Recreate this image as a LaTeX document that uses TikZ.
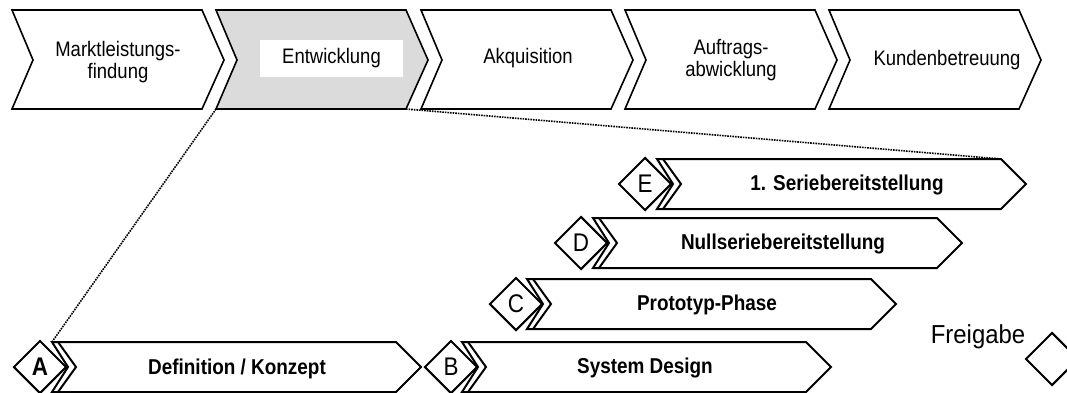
\documentclass[tikz,border=0pt]{standalone}
\usepackage{fontspec}
\setmainfont{Liberation Sans}[FakeStretch=0.88]
\newfontfamily\labelfont{Liberation Sans}[FakeStretch=0.92]
\usetikzlibrary{shapes.geometric}

\tikzset{
  chev/.style={draw=black, line width=1.6pt, line join=miter},
  phase/.style={draw=black, line width=2pt, line join=miter},
  toptext/.style={font=\fontsize{21}{22}\selectfont, align=center, inner sep=0pt},
  phasetext/.style={font=\bfseries\fontsize{21.5}{22}\selectfont, inner sep=0pt},
  gate/.style={diamond, draw=black, line width=2pt, aspect=1,
    minimum width=53pt, minimum height=53pt, inner sep=0pt,
    font=\fontsize{25.5}{25.5}\selectfont},
  link/.style={densely dotted, line width=1.6pt},
  % process chevron of the value chain, origin at its top-left corner
  topchev/.pic={
    \path[chev, pic actions] (0,0) coordinate (-tl) -- (190,0) coordinate (-tr)
      -- (212,50) coordinate (-tip) -- (190,99) coordinate (-br)
      -- (0,99) coordinate (-bl) -- (21,50) -- cycle;
  },
  % development phase bar with its double entry notch
  phasebar/.pic={
    \path[phase, fill=white] (0,0) coordinate (-tl) -- (344,0) coordinate (-tr)
      -- (369,25) coordinate (-tip) -- (344,50) -- (0,50) coordinate (-bl)
      -- (16,25) -- cycle;
    \draw[phase] (6,0) -- (24,25) -- (6,50);
  }
}

\begin{document}
\begin{tikzpicture}[x=1pt, y=-1pt]
\useasboundingbox[fill=white] (0,0) rectangle (1067,392);

% value chain
\pic[fill=white] (c1) at (12,10) {topchev};
\pic[fill={rgb,255:red,219;green,219;blue,219}] (c2) at (216,10) {topchev};
\pic[fill=white] (c3) at (421,10) {topchev};
\pic[fill=white] (c4) at (625,10) {topchev};
\pic[fill=white] (c5) at (829,10) {topchev};

\node[toptext] (t1) at (118,62) {Marktleistungs-\\findung};
\node[fill=white, minimum width=143pt, minimum height=37pt, inner sep=0pt,
      font=\fontsize{21}{22}\selectfont] (t2) at (331.5,58.5) {Entwicklung};
\node[toptext, anchor=base] (t3) at (528,63) {Akquisition};
\node[toptext] (t4) at (731,60.5) {Auftrags-\\abwicklung};
\node[toptext, anchor=base] (t5) at (947,65) {Kundenbetreuung};

% phases of the development
\pic (pA) at (52,342) {phasebar};
\pic (pB) at (462,342) {phasebar};
\pic (pC) at (527,279) {phasebar};
\pic (pD) at (593,218) {phasebar};
\pic (pE) at (657,159) {phasebar};

\node[phasetext] (lA) at (237,369) {Definition / Konzept};
\node[phasetext] (lB) at (645,368) {System Design};
\node[phasetext] (lC) at (707,305) {Prototyp-Phase};
\node[phasetext] (lD) at (783,244) {Nullseriebereitstellung};
\node[phasetext] (lE) at (847,185) {1. Seriebereitstellung};

\node[gate, font=\bfseries\fontsize{25.5}{25.5}\selectfont] (gA) at (40,367) {A};
\node[gate] (gB) at (451,367) {B};
\node[gate] (gC) at (516,304) {C};
\node[gate] (gD) at (581,243) {D};
\node[gate] (gE) at (645,184) {E};

\node[gate] (gF) at (1052,359) {};
\node[anchor=base, inner sep=0pt, font=\labelfont\fontsize{26}{26}\selectfont] (free) at (978,343) {Freigabe};

% zoom lines from the development step to its phases
\draw[link] (c2-bl) -- (pA-tl);
\draw[link] (c2-br) -- (pE-tr);
\end{tikzpicture}
\end{document}
